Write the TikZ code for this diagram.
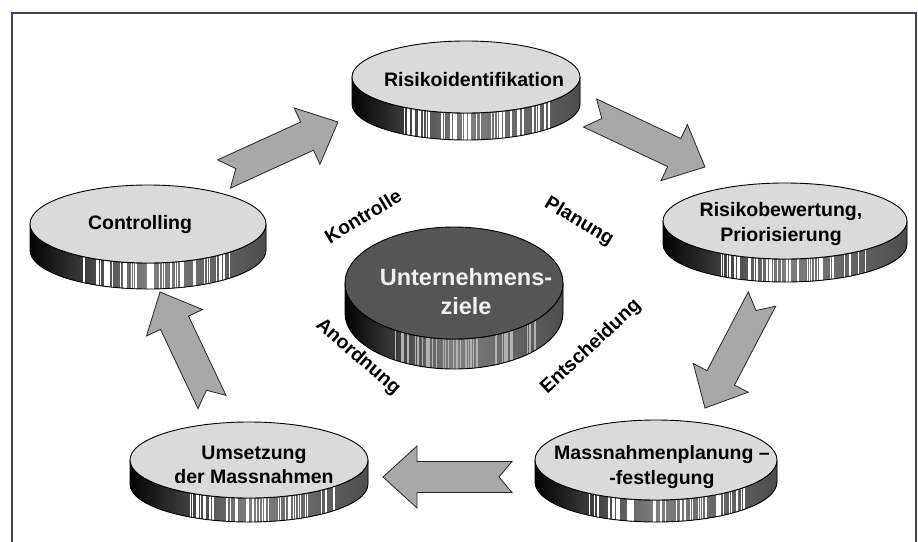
\documentclass[tikz,border=0pt]{standalone}
\usepackage{fontspec}
\setmainfont{Liberation Sans}
\usetikzlibrary{calc,shapes.geometric}
\definecolor{framecol}{RGB}{70,65,100}
\definecolor{toplight}{RGB}{218,218,218}
\definecolor{topdark}{RGB}{85,85,85}
\definecolor{arrowgray}{RGB}{168,168,168}
\tikzset{
  disctop/.style={ellipse, draw=black, line width=0.9pt, inner sep=0pt},
  disctext/.style={font=\bfseries\fontsize{19.5}{24.5}\selectfont, align=center, text=black},
  centertext/.style={font=\bfseries\fontsize{23.5}{29}\selectfont, align=center, text=black!6},
  labeltext/.style={font=\bfseries\fontsize{19.5}{23}\selectfont, inner sep=0pt},
  barrow/.style={fill=arrowgray, draw=black!85, line width=0.8pt, line join=miter},
}
\newcommand\disc[8]{%
  \begin{scope}
    \clip (#2-#4,#3) arc[start angle=180,end angle=360,x radius=#4pt,y radius=#5pt]
      -- ++(0,#6) arc[start angle=0,end angle=-180,x radius=#4pt,y radius=#5pt] -- cycle;
    \fill[left color=black, right color=black!70, middle color=black!50]
      (#2-#4-2,#3-#5) rectangle (#2+#4+2,#3+#5+#6+2);
    \foreach \k in {1,...,50}{%
      \pgfmathsetmacro\sx{#2+(rnd*1.3-0.55)*#4}%
      \pgfmathsetmacro\sw{0.3+1.5*rnd}%
      \draw[#8, line width=\sw pt] (\sx,#3) -- (\sx,#3+#5+#6+2);
    }
  \end{scope}
  \draw[line width=0.9pt] (#2-#4,#3) arc[start angle=180,end angle=360,x radius=#4pt,y radius=#5pt]
      -- ++(0,#6) arc[start angle=0,end angle=-180,x radius=#4pt,y radius=#5pt] -- cycle;
  \node[disctop, fill=#7, minimum width={2*#4pt}, minimum height={2*#5pt}] (#1) at (#2,#3) {};
}
\newcommand\blockarrow[2]{%
  \coordinate (hb) at ($(#2)!34pt!(#1)$);
  \draw[barrow] ($(#1)!15.5pt!90:(#2)$) -- ($(#1)!13pt!(#2)$) -- ($(#1)!15.5pt!-90:(#2)$)
    -- ($(hb)!15.5pt!-90:(#2)$) -- ($(hb)!31pt!-90:(#2)$) -- (#2)
    -- ($(hb)!31pt!90:(#2)$) -- ($(hb)!15.5pt!90:(#2)$) -- cycle;
}
\begin{document}
\begin{tikzpicture}[x=1pt,y=-1pt]
\useasboundingbox (0,0) rectangle (918,541);
\fill[white] (0,0) rectangle (918,541);
\pgfmathsetseed{7}
\draw[framecol, line width=1.1pt] (12,545) -- (12,13) -- (916,13) -- (916,545);

% discs
\disc{d1}{466}{77}{114}{36}{27}{toplight}{white}
\disc{d2}{785}{221}{122}{38}{23}{toplight}{white}
\disc{d3}{656}{460}{121}{40}{22}{toplight}{white}
\disc{d4}{249}{460}{119}{38}{24}{toplight}{white}
\disc{d5}{148}{224}{118}{39}{26}{toplight}{white}
\disc{d0}{454}{283}{109}{56}{30}{topdark}{gray!60}

% texts
\node[disctext] (t1) at (474,80) {Risikoidentifikation};
\node[disctext] (t2) at (781,224) {Risikobewertung,\\Priorisierung};
\node[disctext] (t3) at (662,467) {Massnahmenplanung –\\-festlegung};
\node[disctext] (t4) at (254,465) {Umsetzung\\der Massnahmen};
\node[disctext] (t5) at (140,224) {Controlling};
\node[centertext] (t0) at (466,292) {Unternehmens-\\ziele};

% labels
\node[labeltext, rotate=31] (l1) at (363,216) {Kontrolle};
\node[labeltext, rotate=-31] (l2) at (579,222) {Planung};
\node[labeltext, rotate=-41] (l3) at (358,357) {Anordnung};
\node[labeltext, rotate=43] (l4) at (591,347) {Entscheidung};

% arrows
\coordinate (a1s) at (224,174); \coordinate (a1e) at (338,122);
\coordinate (a2s) at (590,113); \coordinate (a2e) at (705,167);
\coordinate (a3s) at (762,299); \coordinate (a3e) at (705,408);
\coordinate (a4s) at (512,477); \coordinate (a4e) at (383,477);
\coordinate (a5s) at (212,402); \coordinate (a5e) at (160,292);
\blockarrow{a1s}{a1e}
\blockarrow{a2s}{a2e}
\blockarrow{a3s}{a3e}
\blockarrow{a4s}{a4e}
\blockarrow{a5s}{a5e}
\end{tikzpicture}
\end{document}
